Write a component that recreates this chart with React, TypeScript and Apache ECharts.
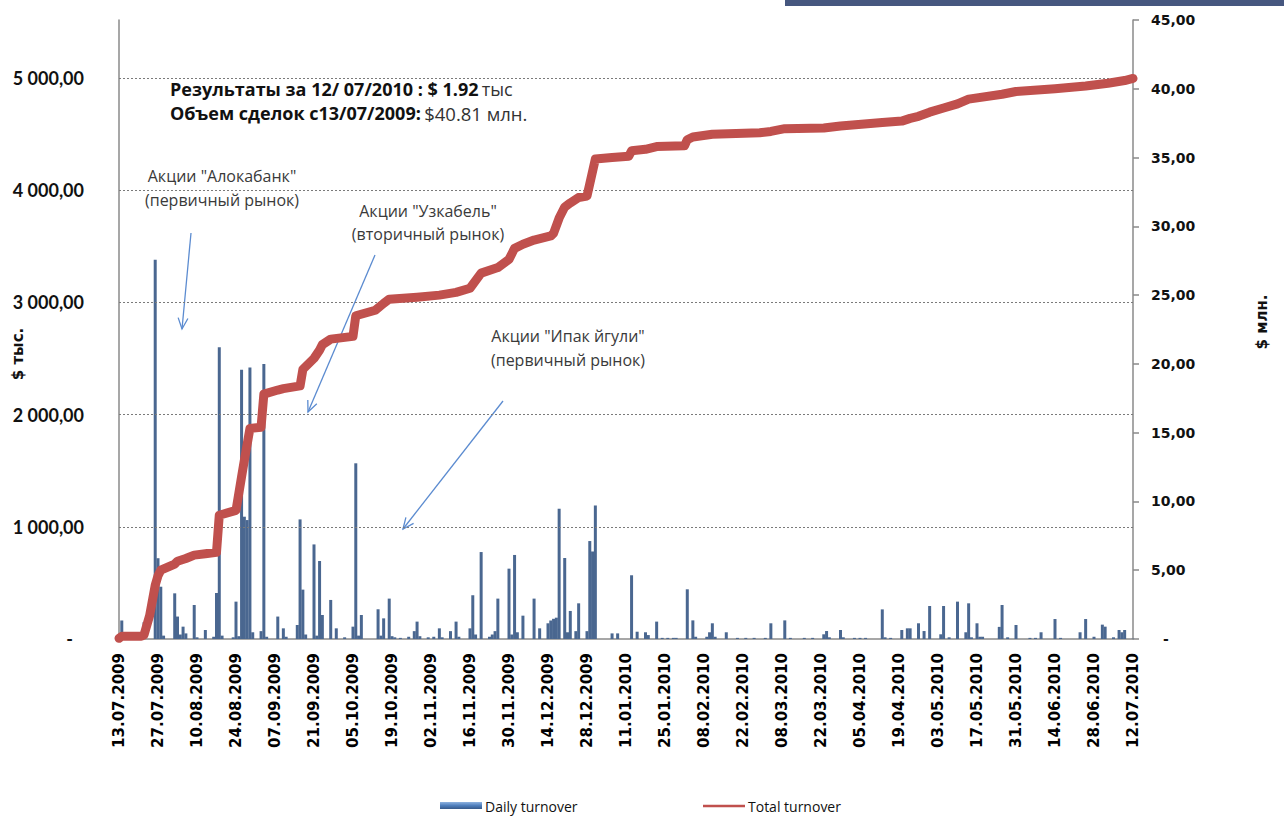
import React, { useEffect, useRef } from 'react';
import * as echarts from 'echarts';

// ---- data ----
// Days counted from 13.07.2009 (day 0) to 12.07.2010 (day 364)
const START_UTC = Date.UTC(2009, 6, 13);
const DAY_MS = 86400000;
const xMaxDay = 364;
const labelEveryDays = 14;

// Daily turnover, $ thousand
const dailyDay = [
  1, 2, 6, 9, 13, 14, 15, 16, 20, 21, 22, 23, 24, 27, 28, 31, 34, 35, 36, 37,
  41, 42, 43, 44, 45, 46, 47, 48, 51, 52, 53, 57, 59, 60, 64, 65, 66, 67, 70, 71,
  72, 73, 76, 78, 81, 84, 85, 86, 87, 93, 94, 95, 97, 98, 99, 101, 104, 106, 107, 108,
  111, 113, 115, 116, 119, 121, 122, 126, 127, 128, 130, 133, 134, 135, 136, 140, 141, 142, 143, 145,
  149, 151, 154, 155, 156, 157, 158, 160, 161, 162, 164, 165, 168, 169, 170, 171, 177, 179, 184, 186,
  189, 190, 193, 195, 197, 199, 200, 204, 206, 207, 211, 212, 213, 214, 218, 222, 225, 228, 232, 234,
  239, 241, 246, 249, 253, 254, 255, 259, 260, 264, 266, 268, 274, 275, 277, 281, 283, 284, 287, 289,
  291, 295, 296, 298, 301, 304, 305, 306, 308, 309, 310, 316, 317, 319, 322, 327, 329, 331, 336, 338,
  345, 347, 350, 353, 354, 357, 359, 360, 361, 364,
];
const dailyValue = [
  165, 20, 15, 150, 3380, 720, 466, 30, 407, 200, 40, 110, 50, 303, 15, 80, 20, 410, 2600, 30,
  15, 333, 25, 2400, 1090, 1060, 2420, 60, 70, 2450, 20, 200, 95, 20, 125, 1066, 440, 40, 843, 30,
  695, 214, 348, 95, 15, 110, 1566, 30, 214, 265, 30, 184, 360, 25, 15, 10, 20, 70, 155, 25,
  15, 20, 95, 15, 70, 155, 20, 95, 390, 40, 775, 20, 40, 70, 360, 627, 40, 749, 60, 208,
  360, 95, 140, 165, 180, 190, 1161, 722, 60, 250, 70, 318, 70, 873, 780, 1190, 50, 50, 568, 65,
  60, 35, 155, 10, 10, 10, 10, 443, 166, 20, 20, 60, 140, 20, 60, 10, 10, 10, 10, 140,
  166, 10, 10, 10, 42, 71, 15, 80, 15, 10, 10, 10, 264, 15, 10, 80, 95, 95, 140, 71,
  294, 42, 294, 15, 333, 60, 318, 15, 140, 20, 20, 108, 303, 15, 125, 10, 10, 60, 178, 10,
  60, 178, 20, 128, 110, 15, 80, 60, 80, 2,
];

// Total (cumulative) turnover, $ million
const totalDay = [
  0, 1, 8, 9, 11, 13, 14, 15, 20, 21, 24, 27, 31, 35, 36, 42, 44, 45, 47, 51,
  52, 57, 59, 65, 66, 70, 72, 73, 76, 84, 85, 92, 95, 97, 107, 115, 121, 126, 130, 136,
  140, 142, 145, 149, 155, 156, 158, 160, 162, 165, 168, 169, 171, 177, 183, 184, 189, 193, 203, 204,
  206, 213, 230, 234, 239, 253, 259, 274, 281, 284, 287, 291, 296, 301, 305, 317, 322, 336, 347, 355,
  361, 364,
];
const totalValue = [
  0.05, 0.2, 0.2, 0.3, 1.7, 3.9, 4.6, 5.0, 5.45, 5.65, 5.85, 6.1, 6.2, 6.3, 9.0, 9.35, 11.8, 13.0, 15.3, 15.4,
  17.8, 18.1, 18.2, 18.4, 19.6, 20.4, 21.0, 21.4, 21.8, 22.0, 23.5, 23.9, 24.4, 24.7, 24.85, 25.0, 25.2, 25.5, 26.6, 27.0,
  27.6, 28.4, 28.7, 29.0, 29.3, 29.5, 30.6, 31.4, 31.7, 32.1, 32.2, 33.1, 34.9, 35.0, 35.1, 35.5, 35.6, 35.8, 35.85, 36.3,
  36.5, 36.7, 36.8, 36.9, 37.1, 37.15, 37.3, 37.55, 37.65, 37.85, 38.0, 38.3, 38.6, 38.9, 39.25, 39.6, 39.8, 40.0, 40.2, 40.4,
  40.6, 40.75,
];

const leftAxisMax = 5517; // $ thousand at top of plot
const leftGridValues = [1000, 2000, 3000, 4000, 5000];
const rightAxisMax = 45;
const rightInterval = 5;

const seriesNames = ['Daily turnover', 'Total turnover'];
const headline1 = 'Результаты за 12/ 07/2010 : $ 1.92';
const headline1Unit = 'тыс';
const headline2 = 'Объем сделок с13/07/2009:';
const headline2Value = '$40.81 млн.';
const notes = [
  ['Акции "Алокабанк"', '(первичный рынок)'],
  ['Акции "Узкабель"', '(вторичный рынок)'],
  ['Акции "Ипак йгули"', '(первичный рынок)'],
];
const leftTitle = '$ тыс.';
const rightTitle = '$ млн.';

// ---- helpers ----
const pad2 = (n: number) => String(n).padStart(2, '0');
const fmtDate = (d: number) => {
  const dt = new Date(START_UTC + Math.round(d) * DAY_MS);
  return `${pad2(dt.getUTCDate())}.${pad2(dt.getUTCMonth() + 1)}.${dt.getUTCFullYear()}`;
};
const fmtLeft = (v: number) =>
  v === 0 ? '{d|-}' : `${Math.floor(v / 1000)} ${String(v % 1000).padStart(3, '0')},00`;
const fmtRight = (v: number) => (v === 0 ? '{d|-}' : v.toFixed(2).replace('.', ','));

const ARROW = '#5b8bd0';
function arrow(x1: number, y1: number, x2: number, y2: number) {
  const ang = Math.atan2(y2 - y1, x2 - x1);
  const L = 12;
  const a = 0.42;
  const p1 = [x2 - L * Math.cos(ang - a), y2 - L * Math.sin(ang - a)];
  const p2 = [x2 - L * Math.cos(ang + a), y2 - L * Math.sin(ang + a)];
  return [
    { type: 'line', shape: { x1, y1, x2, y2 }, style: { stroke: ARROW, lineWidth: 1.3 } },
    {
      type: 'polyline',
      shape: { points: [p1, [x2, y2], p2] },
      style: { stroke: ARROW, lineWidth: 1.3, fill: null },
    },
  ];
}

const noteFont = '16px "Open Sans"';
function noteText(x: number, y: number, text: string, align = 'center') {
  return {
    type: 'text',
    x,
    y,
    style: {
      text,
      font: noteFont,
      fill: '#3a3a3a',
      textAlign: align,
      textVerticalAlign: 'middle',
      verticalAlign: 'middle',
    },
  };
}

export default function App() {
  const ref = useRef<HTMLDivElement>(null);

  useEffect(() => {
    if (!ref.current) return;
    const chart = echarts.init(ref.current, null, { renderer: 'svg' });

    const gray = '#8a8a8a';
    const option: any = {
      animation: false,
      backgroundColor: '#ffffff',
      grid: { left: 119, right: 151, top: 20, bottom: 179 },
      xAxis: {
        type: 'value',
        min: 0,
        max: xMaxDay,
        interval: labelEveryDays,
        axisLine: { show: true, onZero: false, lineStyle: { color: gray, width: 1.5 } },
        axisTick: { show: false },
        splitLine: { show: false },
        axisLabel: {
          rotate: 90,
          margin: 14,
          formatter: fmtDate,
          color: '#000',
          fontFamily: '"DejaVu Sans"',
          fontWeight: 'bold',
          fontSize: 15,
          showMinLabel: true,
          showMaxLabel: true,
        },
      },
      yAxis: [
        {
          type: 'value',
          position: 'left',
          min: 0,
          max: leftAxisMax,
          interval: 1000,
          axisLine: { show: true, lineStyle: { color: gray, width: 1.5 } },
          axisTick: { show: false },
          splitLine: { show: false },
          axisLabel: {
            showMaxLabel: false,
            margin: 35,
            formatter: fmtLeft,
            color: '#111',
            fontFamily: 'Lato',
            fontWeight: 'bold',
            fontSize: 18,
            rich: {
              d: { padding: [0, 11, 0, 0], fontFamily: 'Lato', fontWeight: 'bold', fontSize: 18, color: '#111' },
            },
          },
        },
        {
          type: 'value',
          position: 'right',
          min: 0,
          max: rightAxisMax,
          interval: rightInterval,
          axisLine: { show: true, lineStyle: { color: gray, width: 1.5 } },
          axisTick: { show: true, inside: false, length: 6, lineStyle: { color: gray, width: 1.5 } },
          splitLine: { show: false },
          axisLabel: {
            margin: 18,
            formatter: fmtRight,
            color: '#111',
            fontFamily: '"DejaVu Sans"',
            fontWeight: 'bold',
            fontSize: 14,
            rich: {
              d: { padding: [0, 0, 0, 12], fontFamily: '"DejaVu Sans"', fontWeight: 'bold', fontSize: 14, color: '#111' },
            },
          },
        },
      ],
      series: [
        {
          type: 'bar',
          name: seriesNames[0],
          xAxisIndex: 0,
          yAxisIndex: 0,
          barWidth: 3,
          data: dailyDay.map((d, i) => [d, dailyValue[i]]),
          itemStyle: { color: '#4a6790' },
          markLine: {
            silent: true,
            symbol: ['none', 'none'],
            label: { show: false },
            lineStyle: { type: [2, 2], color: '#7a7a7a', width: 1 },
            data: leftGridValues.map((v) => ({ yAxis: v })),
          },
        },
        {
          type: 'line',
          name: seriesNames[1],
          xAxisIndex: 0,
          yAxisIndex: 1,
          showSymbol: false,
          symbol: 'none',
          data: totalDay.map((d, i) => [d, totalValue[i]]),
          lineStyle: { color: '#c0504d', width: 9, cap: 'round', join: 'round' },
          z: 5,
        },
      ],
      graphic: [
        // top decoration strip
        { type: 'rect', shape: { x: 785, y: 0, width: 499, height: 6 }, style: { fill: '#46577f' } },
        // headline
        {
          type: 'text',
          x: 170,
          y: 89,
          style: {
            text: `{b|${headline1}} {r|${headline1Unit}}`,
            textVerticalAlign: 'middle',
            verticalAlign: 'middle',
            rich: {
              b: { font: 'bold 18px "Open Sans"', fill: '#111' },
              r: { font: '18px "Open Sans"', fill: '#333' },
            },
          },
        },
        {
          type: 'text',
          x: 170,
          y: 113,
          style: {
            text: `{b|${headline2}} {r|${headline2Value}}`,
            textVerticalAlign: 'middle',
            verticalAlign: 'middle',
            rich: {
              b: { font: 'bold 18px "Open Sans"', fill: '#111' },
              r: { font: '18.5px "Open Sans"', fill: '#333' },
            },
          },
        },
        // notes
        noteText(222, 176, notes[0][0]),
        noteText(222, 200, notes[0][1]),
        noteText(428, 211, notes[1][0]),
        noteText(428, 234, notes[1][1]),
        noteText(568, 336, notes[2][0]),
        noteText(568, 360, notes[2][1]),
        ...arrow(191, 233, 182, 329),
        ...arrow(375, 255, 308, 412),
        ...arrow(503, 401, 403, 529),
        // axis titles
        {
          type: 'text',
          x: 18,
          y: 354,
          rotation: Math.PI / 2,
          style: {
            text: leftTitle,
            font: 'bold 15px "DejaVu Sans"',
            fill: '#111',
            textAlign: 'center',
            textVerticalAlign: 'middle',
            verticalAlign: 'middle',
          },
        },
        {
          type: 'text',
          x: 1262,
          y: 322,
          rotation: Math.PI / 2,
          style: {
            text: rightTitle,
            font: 'bold 15px "DejaVu Sans"',
            fill: '#111',
            textAlign: 'center',
            textVerticalAlign: 'middle',
            verticalAlign: 'middle',
          },
        },
        // legend
        {
          type: 'rect',
          shape: { x: 440, y: 802, width: 42, height: 7 },
          style: {
            fill: {
              type: 'linear',
              x: 0,
              y: 0,
              x2: 0,
              y2: 1,
              colorStops: [
                { offset: 0, color: '#8fb3e0' },
                { offset: 0.5, color: '#4f7fbd' },
                { offset: 1, color: '#36598a' },
              ],
            },
          },
        },
        {
          type: 'text',
          x: 485,
          y: 806,
          style: {
            text: seriesNames[0],
            font: '14px "Open Sans"',
            fill: '#111',
            textVerticalAlign: 'middle',
            verticalAlign: 'middle',
          },
        },
        {
          type: 'line',
          shape: { x1: 703, y1: 806, x2: 745, y2: 806 },
          style: { stroke: '#c0504d', lineWidth: 2.5 },
        },
        {
          type: 'text',
          x: 748,
          y: 806,
          style: {
            text: seriesNames[1],
            font: '14px "Open Sans"',
            fill: '#111',
            textVerticalAlign: 'middle',
            verticalAlign: 'middle',
          },
        },
      ],
    };

    chart.setOption(option);
    return () => chart.dispose();
  }, []);

  return (
    <div
      ref={ref}
      style={{ position: 'fixed', left: 0, top: 0, width: 1284, height: 818, background: '#fff' }}
    />
  );
}
